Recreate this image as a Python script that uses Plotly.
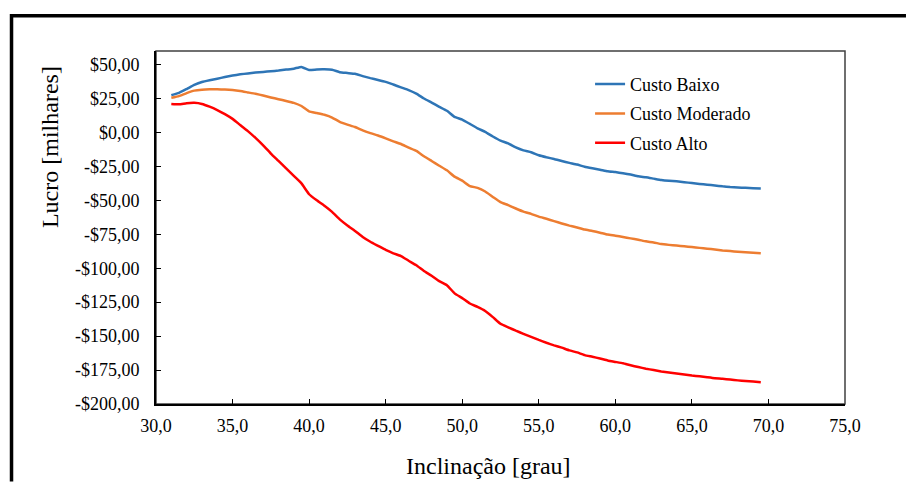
import plotly.graph_objects as go

# Inclinação (graus)
inclinacao = [31.0 + 0.5 * i for i in range(78)]

custo_baixo = [
    27.5, 29.2, 32.0, 35.0, 37.2, 38.5, 39.6, 40.8, 41.9, 42.8,
    43.5, 44.1, 44.6, 45.1, 45.6, 46.3, 47.0, 48.3, 46.0, 46.4,
    46.5, 46.2, 44.4, 43.8, 43.2, 41.5, 40.0, 38.7, 37.3, 35.3,
    33.2, 31.2, 28.6, 25.0, 22.0, 18.9, 16.0, 11.5, 9.5, 6.3,
    3.0, 0.5, -3.0, -6.0, -8.0, -11.0, -13.2, -14.6, -16.8, -18.3,
    -19.5, -21.0, -22.4, -23.6, -25.3, -26.4, -27.4, -28.5, -29.2, -30.0,
    -31.0, -32.3, -33.0, -34.0, -35.0, -35.6, -36.0, -36.6, -37.3, -37.9,
    -38.5, -39.0, -39.7, -40.2, -40.5, -40.8, -41.0, -41.2,
]

custo_moderado = [
    25.5, 26.8, 29.0, 30.8, 31.5, 31.8, 31.8, 31.6, 31.2, 30.5,
    29.5, 28.5, 27.2, 25.8, 24.5, 23.2, 21.8, 19.5, 15.5, 14.3,
    13.0, 11.0, 7.8, 5.8, 4.0, 1.5, -0.5, -2.2, -4.3, -6.5,
    -8.5, -11.2, -13.6, -17.5, -21.0, -24.5, -27.9, -32.5, -35.5, -39.5,
    -40.8, -43.5, -47.5, -51.3, -53.5, -56.0, -58.3, -60.0, -62.0, -63.6,
    -65.3, -67.0, -68.6, -70.0, -71.5, -72.6, -73.8, -75.2, -76.0, -77.0,
    -78.0, -79.0, -80.2, -81.0, -82.2, -82.8, -83.3, -83.8, -84.4, -85.0,
    -85.6, -86.2, -86.9, -87.4, -87.9, -88.3, -88.6, -88.9,
]

custo_alto = [
    21.0, 20.7, 21.5, 21.8, 21.0, 19.0, 16.5, 13.5, 10.0, 5.5,
    1.0, -4.0, -9.5, -15.5, -21.0, -26.5, -32.0, -37.5, -45.5, -50.0,
    -54.0, -58.5, -64.0, -68.5, -72.5, -77.0, -80.5, -83.5, -86.5, -89.0,
    -91.0, -94.5, -97.8, -102.0, -105.5, -109.5, -112.5, -118.5, -122.0, -126.0,
    -128.5, -131.5, -136.0, -140.9, -143.5, -146.0, -148.3, -150.5, -152.8, -154.9,
    -156.8, -158.5, -160.5, -162.0, -164.0, -165.2, -166.5, -168.0, -169.0, -170.0,
    -171.5, -172.8, -174.0, -175.0, -176.0, -176.8, -177.5, -178.2, -179.0, -179.6,
    -180.3, -181.0, -181.4, -182.0, -182.6, -183.1, -183.5, -183.9,
]

series_nomes = ["Custo Baixo", "Custo Moderado", "Custo Alto"]
series_cores = ["#2E75B6", "#ED7D31", "#FF0000"]

x_ticks = [30, 35, 40, 45, 50, 55, 60, 65, 70, 75]
x_ticktext = ["30,0", "35,0", "40,0", "45,0", "50,0", "55,0", "60,0", "65,0", "70,0", "75,0"]
y_ticks = [50, 25, 0, -25, -50, -75, -100, -125, -150, -175, -200]
y_ticktext = ["$50,00", "$25,00", "$0,00", "-$25,00", "-$50,00", "-$75,00",
              "-$100,00", "-$125,00", "-$150,00", "-$175,00", "-$200,00"]

FONTE = "Liberation Serif, Times New Roman, serif"

fig = go.Figure()
for nome, cor, valores in zip(series_nomes, series_cores,
                              [custo_baixo, custo_moderado, custo_alto]):
    fig.add_trace(go.Scatter(
        x=inclinacao, y=valores, mode="lines", name=nome,
        legendgroup=nome,
        line=dict(color=cor, width=2.5, shape="spline", smoothing=0.4),
    ))

# borda externa: lados esquerdo e superior, até a margem da página
bx0, by0, bx1, by1 = -0.2097, -0.2195, 1.0885, 1.1
borda_externa = f"M {bx0},{by0} L {bx0},{by1} L {bx1},{by1}"

fig.update_layout(
    width=908, height=482,
    margin=dict(l=156, r=63, t=51, b=78),
    paper_bgcolor="white", plot_bgcolor="white",
    font=dict(family=FONTE, size=18, color="black"),
    showlegend=True,
    legend=dict(
        x=0.63, y=0.958, xanchor="left", yanchor="top",
        bgcolor="rgba(0,0,0,0)", font=dict(family=FONTE, size=18, color="black"),
        tracegroupgap=3,
    ),
    xaxis=dict(
        range=[30, 75], tickvals=x_ticks, ticktext=x_ticktext,
        showgrid=False, zeroline=False,
        showline=True, linecolor="black", linewidth=2,
        ticks="inside", ticklen=5, tickwidth=1, tickcolor="black",
        ticklabelstandoff=4,
        tickfont=dict(family=FONTE, size=18, color="black"),
    ),
    yaxis=dict(
        range=[-200, 60], tickvals=y_ticks, ticktext=y_ticktext,
        showgrid=False, zeroline=False,
        showline=True, linecolor="black", linewidth=2,
        ticks="inside", ticklen=5, tickwidth=1, tickcolor="black",
        ticklabelstandoff=11,
        tickfont=dict(family=FONTE, size=18, color="black"),
    ),
    shapes=[
        # moldura da área de plotagem
        dict(type="rect", xref="paper", yref="paper", x0=0, y0=0, x1=1, y1=1,
             line=dict(color="#404040", width=1.5), layer="below"),
        dict(type="path", xref="paper", yref="paper", path=borda_externa,
             line=dict(color="black", width=3.5)),
    ],
    annotations=[
        dict(text="Lucro [milhares]", textangle=-90, showarrow=False,
             xref="paper", yref="paper", x=-0.1538, y=0.728,
             xanchor="center", yanchor="middle",
             font=dict(family=FONTE, size=24, color="black")),
        dict(text="Inclinação [grau]", showarrow=False,
             xref="paper", yref="paper", x=(488 - 156) / 689, y=(404 - 466) / 353,
             xanchor="center", yanchor="middle",
             font=dict(family=FONTE, size=24, color="black")),
    ],
)

fig.write_html("out.html")
